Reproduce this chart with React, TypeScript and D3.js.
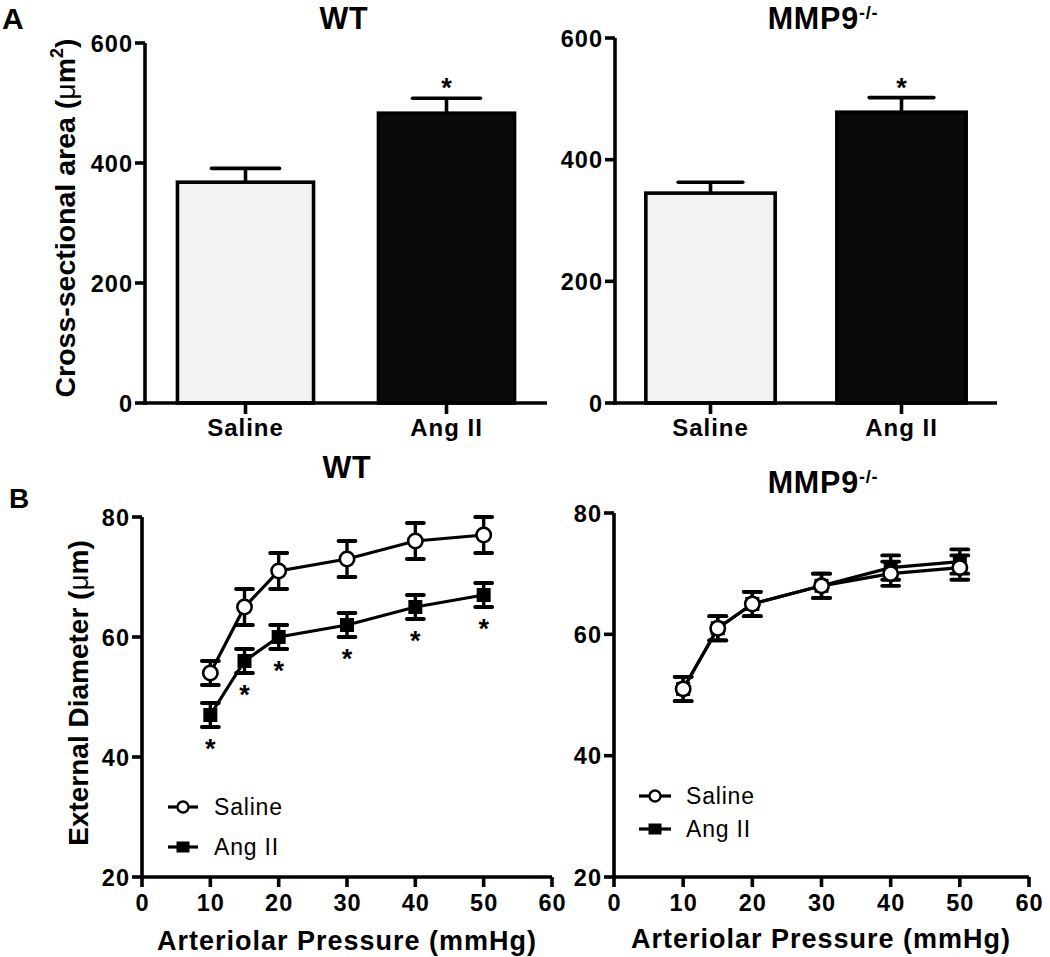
import React from "react";
import * as d3 from "d3";

const FONT = '"Liberation Sans", Arial, Helvetica, sans-serif';

// ---------- Data ----------
const barCategories = ["Saline", "Ang II"];
const wtAreaMeans = [368, 483];
const wtAreaErrs = [23, 25];
const koAreaMeans = [345, 478];
const koAreaErrs = [18, 24];
const areaSignificant = [false, true];
const areaTicks = [0, 200, 400, 600];

const pressures = [10, 15, 20, 30, 40, 50];
const wtSaline = [54, 65, 71, 73, 76, 77];
const wtSalineErr = [2, 3, 3, 3, 3, 3];
const wtAngII = [47, 56, 60, 62, 65, 67];
const wtAngIIErr = [2, 2, 2, 2, 2, 2];
const wtAngIISig = [true, true, true, true, true, true];
const koSaline = [51, 61, 65, 68, 70, 71];
const koSalineErr = [2, 2, 2, 2, 2, 2];
const koAngII = [51, 61, 65, 68, 71, 72];
const koAngIIErr = [2, 2, 2, 2, 2, 2];
const koAngIISig = [false, false, false, false, false, false];
const diameterTicks = [20, 40, 60, 80];
const pressureTicks = [0, 10, 20, 30, 40, 50, 60];

const AXW = 3.6;

type BarProps = {
  x0: number; x1: number; yTop: number; yBottom: number;
  means: number[]; errs: number[]; sig: boolean[];
};

function BarPanel({ x0, x1, yTop, yBottom, means, errs, sig }: BarProps) {
  const x = d3.scaleBand<string>().domain(barCategories).range([x0, x1]).paddingInner(0.323).paddingOuter(0.1615);
  const y = d3.scaleLinear().domain([0, 600]).range([yBottom, yTop]);
  const fills = ["#f2f2f2", "#0a0a0a"];
  return (
    <g>
      {barCategories.map((c, i) => {
        const bx = x(c)!;
        const bw = x.bandwidth();
        const cx = bx + bw / 2;
        const top = y(means[i]);
        const cap = y(means[i] + errs[i]);
        return (
          <g key={c}>
            <rect x={bx} y={top} width={bw} height={yBottom - top} fill={fills[i]} stroke="#000" strokeWidth={3.6} />
            <line x1={cx} x2={cx} y1={top} y2={cap} stroke="#000" strokeWidth={3.6} />
            <line x1={cx - bw / 4} x2={cx + bw / 4} y1={cap} y2={cap} stroke="#000" strokeWidth={3.6} strokeLinecap="round" />
            {sig[i] && (
              <text x={cx} y={cap - 16 + 15} textAnchor="middle" fontFamily={FONT} fontWeight="bold" fontSize={27}>*</text>
            )}
          </g>
        );
      })}
      {/* axes */}
      <line x1={x0} x2={x0} y1={yTop} y2={yBottom + AXW / 2} stroke="#000" strokeWidth={AXW} />
      <line x1={x0} x2={x1} y1={yBottom} y2={yBottom} stroke="#000" strokeWidth={AXW} />
      {areaTicks.map((t) => (
        <g key={t}>
          <line x1={x0 - 10} x2={x0} y1={y(t)} y2={y(t)} stroke="#000" strokeWidth={AXW} />
          <text x={x0 - 12} y={y(t) + 8.5} textAnchor="end" fontFamily={FONT} fontWeight="bold" fontSize={23.5} letterSpacing={1}>{t}</text>
        </g>
      ))}
      {barCategories.map((c) => {
        const cx = x(c)! + x.bandwidth() / 2;
        return (
          <g key={c}>
            <line x1={cx} x2={cx} y1={yBottom} y2={yBottom + 11} stroke="#000" strokeWidth={AXW} />
            <text x={cx} y={yBottom + 33} textAnchor="middle" fontFamily={FONT} fontWeight="bold" fontSize={24} letterSpacing={1}>{c}</text>
          </g>
        );
      })}
    </g>
  );
}

type Series = { means: number[]; errs: number[]; sig: boolean[]; filled: boolean };
type LineProps = {
  x0: number; x1: number; yTop: number; yBottom: number; series: Series[];
  legend: { lx1: number; lx2: number; ly: number[]; tx: number };
};

function LinePanel({ x0, x1, yTop, yBottom, series, legend }: LineProps) {
  const x = d3.scaleLinear().domain([0, 60]).range([x0, x1]);
  const y = d3.scaleLinear().domain([20, 80]).range([yBottom, yTop]);
  const line = d3.line<number>().x((_, i) => x(pressures[i])).y((d) => y(d));
  const capHalf = 8.5;
  return (
    <g>
      {series.map((s, si) => (
        <g key={si}>
          {s.means.map((m, i) => {
            const cx = x(pressures[i]);
            const hi = y(m + s.errs[i]);
            const lo = y(m - s.errs[i]);
            return (
              <g key={i}>
                <line x1={cx} x2={cx} y1={hi} y2={lo} stroke="#000" strokeWidth={3.4} />
                <line x1={cx - capHalf} x2={cx + capHalf} y1={hi} y2={hi} stroke="#000" strokeWidth={3.8} strokeLinecap="round" />
                <line x1={cx - capHalf} x2={cx + capHalf} y1={lo} y2={lo} stroke="#000" strokeWidth={3.8} strokeLinecap="round" />
                {s.sig[i] && (
                  <text x={cx} y={lo + 16 + 15} textAnchor="middle" fontFamily={FONT} fontWeight="bold" fontSize={27}>*</text>
                )}
              </g>
            );
          })}
          <path d={line(s.means) || ""} fill="none" stroke="#000" strokeWidth={3.2} />
          {s.means.map((m, i) => {
            const cx = x(pressures[i]);
            const cy = y(m);
            return s.filled ? (
              <rect key={i} x={cx - 7} y={cy - 7} width={14} height={14} fill="#000" />
            ) : (
              <circle key={i} cx={cx} cy={cy} r={7.2} fill="#fff" stroke="#000" strokeWidth={2.6} />
            );
          })}
        </g>
      ))}
      {/* axes */}
      <line x1={x0} x2={x0} y1={yTop} y2={yBottom + AXW / 2} stroke="#000" strokeWidth={AXW} />
      <line x1={x0} x2={x1} y1={yBottom} y2={yBottom} stroke="#000" strokeWidth={AXW} />
      {diameterTicks.map((t) => (
        <g key={t}>
          <line x1={x0 - 10} x2={x0} y1={y(t)} y2={y(t)} stroke="#000" strokeWidth={AXW} />
          <text x={x0 - 12} y={y(t) + 8.5} textAnchor="end" fontFamily={FONT} fontWeight="bold" fontSize={23.5} letterSpacing={1}>{t}</text>
        </g>
      ))}
      {pressureTicks.map((t) => (
        <g key={t}>
          <line x1={x(t)} x2={x(t)} y1={yBottom} y2={yBottom + 10} stroke="#000" strokeWidth={AXW} />
          <text x={x(t) + 0.5} y={yBottom + 34} textAnchor="middle" fontFamily={FONT} fontWeight="bold" fontSize={23.5} letterSpacing={1}>{t}</text>
        </g>
      ))}
      {/* legend */}
      {["Saline", "Ang II"].map((label, i) => {
        const ly = legend.ly[i];
        const mx = (legend.lx1 + legend.lx2) / 2;
        return (
          <g key={label}>
            <line x1={legend.lx1} x2={legend.lx2} y1={ly} y2={ly} stroke="#000" strokeWidth={3.2} />
            {i === 0 ? (
              <circle cx={mx} cy={ly} r={5.5} fill="#fff" stroke="#000" strokeWidth={2.3} />
            ) : (
              <rect x={mx - 6.5} y={ly - 5.5} width={13} height={11} fill="#000" />
            )}
            <text x={legend.tx} y={ly + 7.5} fontFamily={FONT} fontSize={23} letterSpacing={0.8}>{label}</text>
          </g>
        );
      })}
    </g>
  );
}

function Title({ x, y, text, sup }: { x: number; y: number; text: string; sup?: string }) {
  return (
    <text x={x} y={y} textAnchor="middle" fontFamily={FONT} fontWeight="bold" fontSize={30.5} letterSpacing={0.8}>
      {text}
      {sup && <tspan fontSize={18} dy={-10}>{sup}</tspan>}
    </text>
  );
}

export default function App() {
  return (
    <svg width={1050} height={957} viewBox="0 0 1050 957" style={{ position: "absolute", left: 0, top: 0, background: "#fff" }}>
      <rect x={0} y={0} width={1050} height={957} fill="#fff" />
      {/* Panel labels */}
      <text x={2} y={29} fontFamily={FONT} fontWeight="bold" fontSize={30}>A</text>
      <text x={9} y={508} fontFamily={FONT} fontWeight="bold" fontSize={28}>B</text>

      {/* Titles */}
      <Title x={344} y={29} text="WT" />
      <Title x={823} y={29} text="MMP9" sup="-/-" />
      <Title x={347} y={478} text="WT" />
      <Title x={823} y={493} text="MMP9" sup="-/-" />

      {/* Panel A */}
      <BarPanel x0={145} x1={547} yTop={43} yBottom={403} means={wtAreaMeans} errs={wtAreaErrs} sig={areaSignificant} />
      <BarPanel x0={615} x1={997} yTop={38} yBottom={403} means={koAreaMeans} errs={koAreaErrs} sig={areaSignificant} />
      <text transform="translate(75,218) rotate(-90)" textAnchor="middle" fontFamily={FONT} fontWeight="bold" fontSize={28.5}>
        Cross-sectional area (<tspan fontWeight="normal">μ</tspan>m<tspan fontSize={18} dy={-12}>2</tspan><tspan dy={12}>)</tspan>
      </text>

      {/* Panel B */}
      <LinePanel
        x0={142} x1={552} yTop={517} yBottom={877}
        series={[
          { means: wtSaline, errs: wtSalineErr, sig: [false, false, false, false, false, false], filled: false },
          { means: wtAngII, errs: wtAngIIErr, sig: wtAngIISig, filled: true },
        ]}
        legend={{ lx1: 168, lx2: 198, ly: [807, 847], tx: 214 }}
      />
      <LinePanel
        x0={614} x1={1029} yTop={513} yBottom={877}
        series={[
          { means: koAngII, errs: koAngIIErr, sig: koAngIISig, filled: true },
          { means: koSaline, errs: koSalineErr, sig: [false, false, false, false, false, false], filled: false },
        ]}
        legend={{ lx1: 639, lx2: 671, ly: [796, 829], tx: 686 }}
      />
      <text transform="translate(88,693) rotate(-90)" textAnchor="middle" fontFamily={FONT} fontWeight="bold" fontSize={28}>
        External Diameter (<tspan fontWeight="normal">μ</tspan>m)
      </text>
      <text x={347} y={950} textAnchor="middle" fontFamily={FONT} fontWeight="bold" fontSize={27} letterSpacing={1.0}>Arteriolar Pressure (mmHg)</text>
      <text x={821} y={948} textAnchor="middle" fontFamily={FONT} fontWeight="bold" fontSize={27} letterSpacing={1.0}>Arteriolar Pressure (mmHg)</text>
    </svg>
  );
}
